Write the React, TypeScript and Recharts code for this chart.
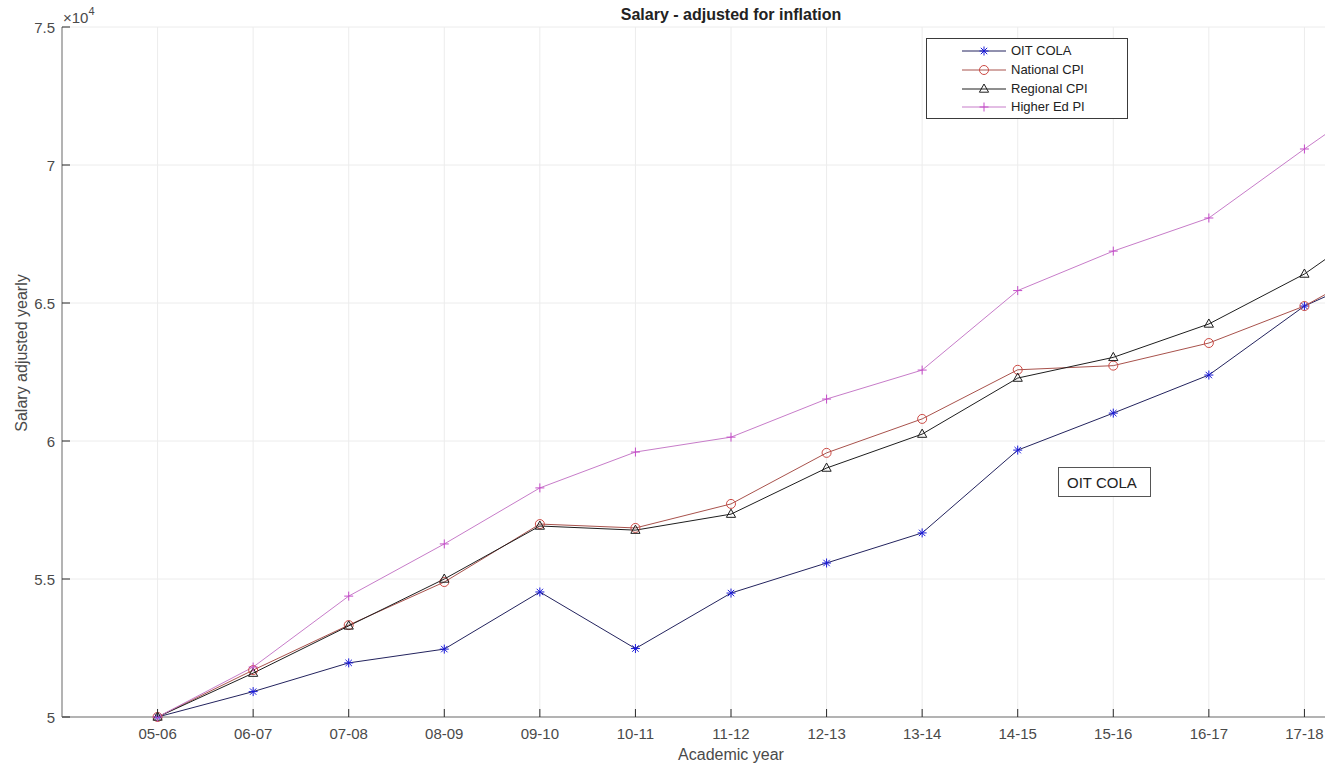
import React from 'react';
import { LineChart, Line, XAxis, YAxis, CartesianGrid, Legend } from 'recharts';

const categories = ['05-06', '06-07', '07-08', '08-09', '09-10', '10-11', '11-12', '12-13', '13-14', '14-15', '15-16', '16-17', '17-18', '18-19'];
const oitCola = [50000, 50920, 51960, 52460, 54530, 52480, 54490, 55580, 56670, 59670, 61010, 62390, 64890, 66450];
const nationalCpi = [50000, 51700, 53330, 54890, 56990, 56850, 57720, 59570, 60800, 62580, 62730, 63550, 64890, 66810];
const regionalCpi = [50000, 51590, 53300, 55000, 56920, 56770, 57350, 59020, 60250, 62280, 63030, 64240, 66050, 68480];
const higherEdPi = [50000, 51810, 54380, 56270, 58300, 59600, 60140, 61520, 62570, 65450, 66880, 68080, 70580, 73000];
const yTicks = [50000, 55000, 60000, 65000, 70000, 75000];
const xTicks = categories.map((_, i) => i);

const data = categories.map((c, i) => ({
  idx: i,
  cat: c,
  oit: oitCola[i],
  nat: nationalCpi[i],
  reg: regionalCpi[i],
  hed: higherEdPi[i],
}));

const FONT = '"Liberation Sans", Arial, Helvetica, sans-serif';

type Shape = 'asterisk' | 'circle' | 'triangle' | 'plus';

const series: { key: string; name: string; line: string; marker: Shape; mcolor: string }[] = [
  { key: 'oit', name: 'OIT COLA', line: '#23235e', marker: 'asterisk', mcolor: '#1a1ad8' },
  { key: 'nat', name: 'National CPI', line: '#a8524c', marker: 'circle', mcolor: '#cc4a44' },
  { key: 'reg', name: 'Regional CPI', line: '#1e1e1e', marker: 'triangle', mcolor: '#1e1e1e' },
  { key: 'hed', name: 'Higher Ed PI', line: '#c77cc9', marker: 'plus', mcolor: '#c44cc8' },
];

function markerShape(shape: Shape, cx: number, cy: number, color: string) {
  switch (shape) {
    case 'asterisk':
      return (
        <g stroke={color} strokeWidth={1} fill="none">
          <line x1={cx - 4.5} x2={cx + 4.5} y1={cy} y2={cy} />
          <line x1={cx} x2={cx} y1={cy - 4.5} y2={cy + 4.5} />
          <line x1={cx - 3.2} x2={cx + 3.2} y1={cy - 3.2} y2={cy + 3.2} />
          <line x1={cx - 3.2} x2={cx + 3.2} y1={cy + 3.2} y2={cy - 3.2} />
        </g>
      );
    case 'circle':
      return <circle cx={cx} cy={cy} r={4.5} stroke={color} strokeWidth={1} fill="none" />;
    case 'triangle':
      return (
        <polygon
          points={`${cx},${cy - 5} ${cx + 4.6},${cy + 3.2} ${cx - 4.6},${cy + 3.2}`}
          stroke={color}
          strokeWidth={1}
          fill="none"
        />
      );
    case 'plus':
    default:
      return (
        <g stroke={color} strokeWidth={1}>
          <line x1={cx - 4.5} x2={cx + 4.5} y1={cy} y2={cy} />
          <line x1={cx} x2={cx} y1={cy - 4.5} y2={cy + 4.5} />
        </g>
      );
  }
}

const makeDot = (shape: Shape, color: string) => (props: any) => {
  const { cx, cy, index } = props;
  if (cx == null || cy == null) return <g key={`${shape}-e-${index}`} />;
  return <g key={`${shape}-${index}`}>{markerShape(shape, cx, cy, color)}</g>;
};

const BottomTick = (props: any) => {
  const { x, y, payload } = props;
  return (
    <g>
      <line x1={x} x2={x} y1={y} y2={y - 8} stroke="#2a2a2a" strokeWidth={1} />
      <text x={x} y={y + 22} textAnchor="middle" fontSize={15} fill="#4a4a4a" fontFamily={FONT}>
        {categories[payload.value]}
      </text>
    </g>
  );
};

const TopTick = (props: any) => {
  const { x, y } = props;
  return <line x1={x} x2={x} y1={y} y2={y + 8} stroke="#2a2a2a" strokeWidth={1} />;
};

const LeftTick = (props: any) => {
  const { x, y, payload } = props;
  const axisX = x + 7;
  return (
    <g>
      <line x1={axisX} x2={axisX + 8} y1={y} y2={y} stroke="#2a2a2a" strokeWidth={1} />
      <text x={x} y={y + 5.5} textAnchor="end" fontSize={15} fill="#4a4a4a" fontFamily={FONT}>
        {String(payload.value / 10000)}
      </text>
    </g>
  );
};

const renderLegend = () => (
  <div
    style={{
      width: 200,
      height: 76,
      paddingTop: 3,
      border: '1px solid #3a3a3a',
      background: '#fff',
      fontFamily: FONT,
      fontSize: 13,
      color: '#222',
      boxSizing: 'content-box',
    }}
  >
    {series.map((s) => (
      <div key={s.key} style={{ display: 'flex', alignItems: 'center', height: 18.67 }}>
        <svg width={79} height={18} style={{ display: 'block' }}>
          <line x1={35} x2={79} y1={9} y2={9} stroke={s.line} strokeWidth={1} />
          {markerShape(s.marker, 57, 9, s.mcolor)}
        </svg>
        <span style={{ marginLeft: 5, lineHeight: '18px' }}>{s.name}</span>
      </div>
    ))}
  </div>
);

export default function App() {
  return (
    <div
      style={{
        position: 'absolute',
        left: 0,
        top: 0,
        width: 1325,
        height: 765,
        overflow: 'hidden',
        background: '#fff',
      }}
    >
      <LineChart
        width={1420}
        height={765}
        data={data}
        margin={{ top: 27, right: 20, left: 0, bottom: 0 }}
        style={{ fontFamily: FONT }}
      >
        <CartesianGrid stroke="#ececec" strokeWidth={1} />
        <XAxis
          xAxisId={0}
          dataKey="idx"
          type="number"
          domain={[-1, 13]}
          ticks={xTicks}
          interval={0}
          height={48}
          tickSize={0}
          tickMargin={0}
          tickLine={false}
          axisLine={{ stroke: '#9c9c9c', strokeWidth: 1.5 }}
          tick={<BottomTick />}
          label={{
            content: (p: any) => {
              const vb = p.viewBox;
              return (
                <text
                  x={vb.x + vb.width / 2}
                  y={vb.y + 43}
                  textAnchor="middle"
                  fontSize={16}
                  fill="#4a4a4a"
                  fontFamily={FONT}
                >
                  Academic year
                </text>
              );
            },
          }}
        />
        <XAxis
          xAxisId="top"
          orientation="top"
          dataKey="idx"
          type="number"
          domain={[-1, 13]}
          ticks={xTicks}
          interval={0}
          height={0}
          tickSize={0}
          tickMargin={0}
          tickLine={false}
          axisLine={{ stroke: '#9c9c9c', strokeWidth: 1.5 }}
          tick={<TopTick />}
        />
        <YAxis
          type="number"
          domain={[50000, 75000]}
          ticks={yTicks}
          interval={0}
          width={62}
          tickSize={0}
          tickMargin={7}
          tickLine={false}
          axisLine={{ stroke: '#9c9c9c', strokeWidth: 1.5 }}
          tick={<LeftTick />}
          label={{
            content: (p: any) => {
              const vb = p.viewBox;
              const cx = vb.x + 21;
              const cy = vb.y + vb.height / 2 - 19;
              return (
                <text
                  x={cx}
                  y={cy}
                  transform={`rotate(-90, ${cx}, ${cy})`}
                  textAnchor="middle"
                  dominantBaseline="central"
                  fontSize={16}
                  fill="#4a4a4a"
                  fontFamily={FONT}
                >
                  Salary adjusted yearly
                </text>
              );
            },
          }}
        />
        <Legend
          layout="vertical"
          align="center"
          verticalAlign="middle"
          content={renderLegend}
          wrapperStyle={{ left: 926, top: 38, width: 'auto', height: 'auto' }}
        />
        {series.map((s) => (
          <Line
            key={s.key}
            dataKey={s.key}
            name={s.name}
            type="linear"
            stroke={s.line}
            strokeWidth={1}
            dot={makeDot(s.marker, s.mcolor)}
            activeDot={false}
            isAnimationActive={false}
          />
        ))}
      </LineChart>
      <svg
        width={1325}
        height={765}
        style={{ position: 'absolute', left: 0, top: 0, pointerEvents: 'none' }}
      >
        <text x={731} y={20} textAnchor="middle" fontSize={16} fontWeight="bold" fill="#222" fontFamily={FONT}>
          Salary - adjusted for inflation
        </text>
        <text x={63} y={23} fontSize={15} fill="#4a4a4a" fontFamily={FONT}>
          ×10
          <tspan fontSize={11} dy={-8}>4</tspan>
        </text>
        <rect x={1058.5} y={467.5} width={92} height={29} fill="#fff" stroke="#555" strokeWidth={1} />
        <text x={1067} y={488} fontSize={15} fill="#222" fontFamily={FONT}>
          OIT COLA
        </text>
      </svg>
    </div>
  );
}
